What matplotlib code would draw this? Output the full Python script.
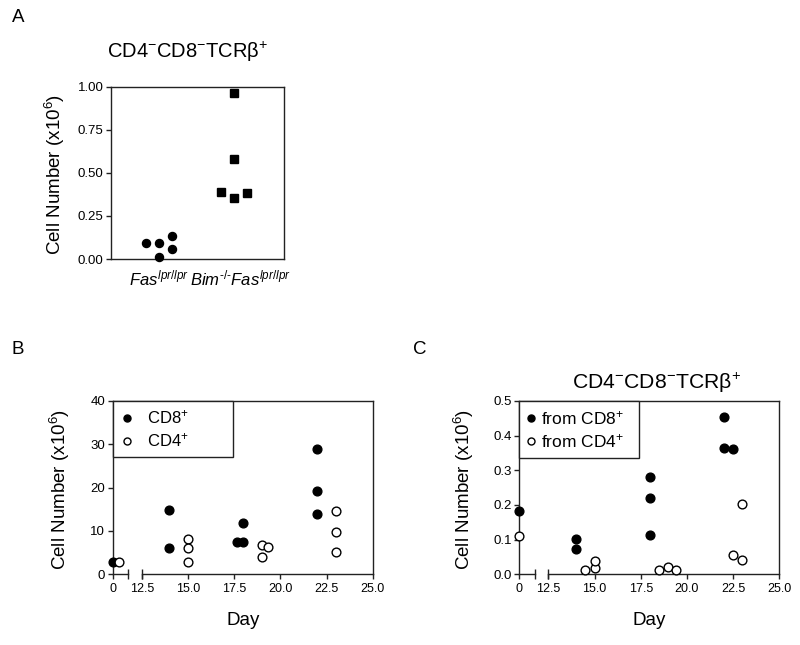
import numpy as np
import matplotlib
matplotlib.use("Agg")
import matplotlib.pyplot as plt
from matplotlib.transforms import ScaledTranslation

plt.rcParams['font.family'] = ['Liberation Sans', 'DejaVu Sans']
plt.rcParams['mathtext.fontset'] = 'custom'
plt.rcParams['mathtext.rm'] = 'Liberation Sans'
plt.rcParams['mathtext.it'] = 'Liberation Sans:italic'
plt.rcParams['mathtext.bf'] = 'Liberation Sans:bold'

# ---------------- Data ----------------
# Panel A
groups_A = ["Fas_lpr", "Bim_Fas_lpr"]
fas_offsets = [-1, 0, 0, 1, 1]
fas_values = [0.090, 0.090, 0.014, 0.134, 0.058]
bim_offsets = [-1, 0, 0, 0, 1]
bim_values = [0.390, 0.962, 0.580, 0.352, 0.385]
ylabel_A_ticks = [0.00, 0.25, 0.50, 0.75, 1.00]

# Panel B (cell number x10^6)
B_cd8_day = [0, 14, 14, 17.65, 18, 18, 22, 22, 22]
B_cd8_val = [2.9, 14.8, 6.15, 7.5, 7.5, 11.8, 29.0, 19.2, 13.9]
B_cd4_day = [0.33, 15, 15, 15, 19, 19.33, 19, 23, 23, 23]
B_cd4_val = [2.9, 8.15, 6.0, 2.85, 6.7, 6.4, 4.1, 14.5, 9.85, 5.2]

# Panel C (cell number x10^6)
C_cd8_day = [0, 14, 14, 18, 18, 18, 22, 22, 22.5]
C_cd8_val = [0.183, 0.101, 0.073, 0.282, 0.220, 0.112, 0.453, 0.364, 0.362]
C_cd4_day = [0, 14.5, 15, 15, 18.5, 19, 19.4, 22.5, 23, 23]
C_cd4_val = [0.111, 0.011, 0.017, 0.039, 0.012, 0.020, 0.012, 0.056, 0.040, 0.203]

day_ticks = [0, 12.5, 15.0, 17.5, 20.0, 22.5, 25.0]
day_ticklabels = ["0", "12.5", "15.0", "17.5", "20.0", "22.5", "25.0"]
B_yticks = [0, 10, 20, 30, 40]
C_yticks = [0.0, 0.1, 0.2, 0.3, 0.4, 0.5]

HY = "\u2010"
title_txt = r"CD4$^{-}$CD8$^{-}$TCRβ$^{+}$"
ylab = r"Cell Number (x10$^{6}$)"
catA = [r"$\mathit{Fas}^{\mathit{lpr/lpr}}$",
        r"$\mathit{Bim}^{\mathit{" + HY + "/" + HY + r"}}\mathit{Fas}^{\mathit{lpr/lpr}}$"]
SPC = '#222222'

fig = plt.figure(figsize=(8, 6.45), dpi=100)

def W(px): return px / 800.0
def H(px): return px / 645.0

def style_axes(ax):
    for s in ax.spines.values():
        s.set_linewidth(1.0)
        s.set_color(SPC)
    ax.tick_params(axis='both', direction='out', length=3.5, width=1.0,
                   color=SPC, labelsize=9.5, pad=2)

# ---------------- Panel A ----------------
axA = fig.add_axes([W(111), 1 - H(259), W(173), H(172.3)])
style_axes(axA)
jit = 0.175
axA.plot(np.array(fas_offsets) * jit + 0, fas_values, 'o', color='black',
         markersize=5.8, clip_on=False, zorder=3)
axA.plot(np.array(bim_offsets) * jit + 1, bim_values, 's', color='black',
         markersize=5.4, clip_on=False, zorder=3)
axA.set_xlim(-0.65, 1.68)
axA.set_ylim(0, 1.0)
axA.set_yticks(ylabel_A_ticks)
axA.set_yticklabels([f"{v:.2f}" for v in ylabel_A_ticks])
axA.set_xticks([0, 1])
axA.set_xticklabels(catA, fontsize=12)
axA.tick_params(axis='x', length=0, pad=7)
lbls = axA.get_xticklabels()
lbls[1].set_transform(lbls[1].get_transform() + ScaledTranslation(7/100, 0, fig.dpi_scale_trans))
axA.set_ylabel(ylab, fontsize=13.5)
axA.yaxis.set_label_coords(-0.255, 0.49)
fig.text(W(188), 1 - H(52), title_txt, fontsize=14.5, ha='center', va='center')
fig.text(W(18), 1 - H(18), "A", fontsize=13.5, ha='center', va='center')

# ---------------- Broken axis panels ----------------
GAP = 1.57
BRK = 0.83

def fwd(x):
    x = np.asarray(x, dtype=float)
    return np.where(x < 6, x, x - 12.5 + GAP)

def inv(t):
    t = np.asarray(t, dtype=float)
    return np.where(t < 1.2, t, t + 12.5 - GAP)

def broken_axes(left_px):
    ax = fig.add_axes([W(left_px), 1 - H(574.3), W(260), H(173.3)])
    style_axes(ax)
    ax.set_xscale('function', functions=(fwd, inv))
    ax.set_xlim(0, 25)
    ax.spines['bottom'].set_visible(False)
    tr = ax.get_xaxis_transform()
    ax.plot([0, BRK], [0, 0], color=SPC, lw=1.0, transform=tr, clip_on=False)
    ax.plot([12.5, 25], [0, 0], color=SPC, lw=1.0, transform=tr, clip_on=False)
    ax.plot([BRK, 12.5], [0, 0], ls='none', marker='|', markersize=7,
            markeredgewidth=1.0, color=SPC, transform=tr, clip_on=False)
    ax.set_xticks(day_ticks)
    ax.set_xticklabels(day_ticklabels)
    ax.tick_params(axis='x', labelsize=9, pad=3)
    ax.set_xlabel("Day", fontsize=13.5)
    ax.xaxis.set_label_coords(0.5, -0.22)
    ax.set_ylabel(ylab, fontsize=13.5)
    return ax

# Panel B
axB = broken_axes(112.7)
axB.plot(B_cd8_day, B_cd8_val, 'o', color='black', markersize=6.3,
         clip_on=False, zorder=3, label=r"CD8$^{+}$")
axB.plot(B_cd4_day, B_cd4_val, 'o', markerfacecolor='white', markeredgecolor='black',
         markeredgewidth=1.0, markersize=6.3, clip_on=False, zorder=3, label=r"CD4$^{+}$")
axB.set_ylim(0, 40)
axB.set_yticks(B_yticks)
axB.yaxis.set_label_coords(-0.157, 0.49)
legB = axB.legend(loc='upper left', bbox_to_anchor=(0, 0.702, 0.4615, 0.298),
                  mode='expand', borderaxespad=0, fontsize=12, markerscale=0.8,
                  handlelength=0.8, handletextpad=0.8, labelspacing=0.3,
                  borderpad=0.45, fancybox=False, framealpha=1)
legB.get_frame().set_edgecolor(SPC)
legB.get_frame().set_linewidth(1.0)
fig.text(W(18), 1 - H(350), "B", fontsize=13.5, ha='center', va='center')

# Panel C
axC = broken_axes(519.3)
axC.plot(C_cd8_day, C_cd8_val, 'o', color='black', markersize=6.3,
         clip_on=False, zorder=3, label=r"from CD8$^{+}$")
axC.plot(C_cd4_day, C_cd4_val, 'o', markerfacecolor='white', markeredgecolor='black',
         markeredgewidth=1.0, markersize=6.3, clip_on=False, zorder=3, label=r"from CD4$^{+}$")
axC.set_ylim(0, 0.5)
axC.set_yticks(C_yticks)
axC.set_yticklabels([f"{v:.1f}" for v in C_yticks])
axC.yaxis.set_label_coords(-0.167, 0.49)
legC = axC.legend(loc='upper left', bbox_to_anchor=(0, 0.702, 0.4615, 0.298),
                  mode='expand', borderaxespad=0, fontsize=12.5, markerscale=0.8,
                  handlelength=0.5, handletextpad=0.3, labelspacing=0.3,
                  borderpad=0.45, fancybox=False, framealpha=1)
legC.get_frame().set_edgecolor(SPC)
legC.get_frame().set_linewidth(1.0)
fig.text(W(656), 1 - H(383), title_txt, fontsize=15.2, ha='center', va='center')
fig.text(W(420), 1 - H(350), "C", fontsize=13.5, ha='center', va='center')

fig.savefig("out.png", dpi=100)
